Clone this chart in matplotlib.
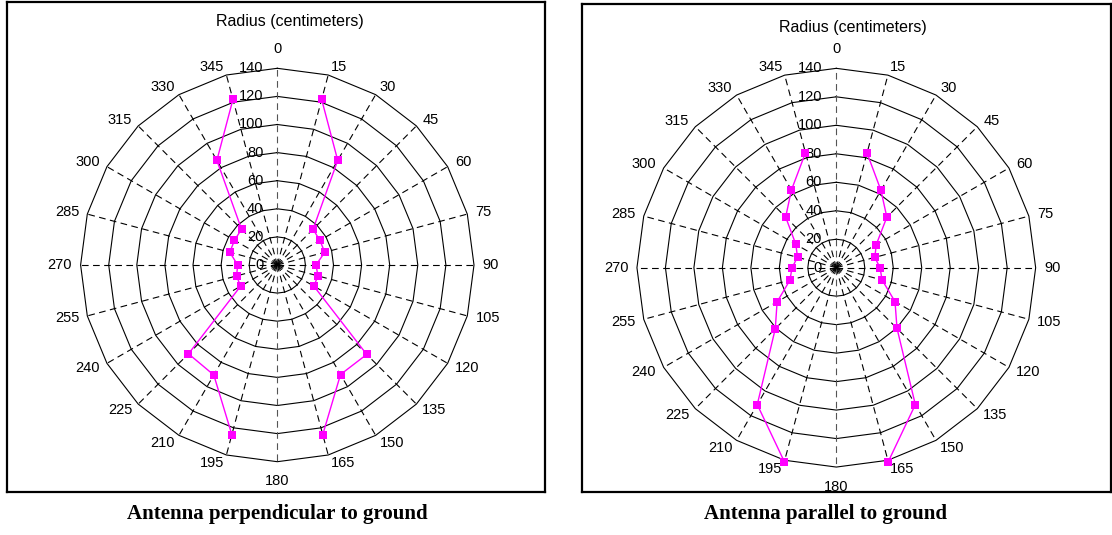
import numpy as np
import matplotlib.pyplot as plt

# Angles (degrees, clockwise from top) of the two halves of each pattern
angles_east = [15, 30, 45, 60, 75, 90, 105, 120, 135, 150, 165]
angles_west = [195, 210, 225, 240, 255, 270, 285, 300, 315, 330, 345]

# Radius (cm) - antenna perpendicular to ground
perp_east = [122, 86, 36, 35, 35, 27.5, 30, 30, 90, 90, 125]
perp_west = [125, 90.4, 89.4, 30.2, 30, 28.2, 35, 35.2, 36, 86, 122]

# Radius (cm) - antenna parallel to ground
par_east = [83.4, 62.7, 50.2, 32.4, 28, 30.7, 33.3, 47.6, 60.3, 111, 141]
par_west = [141, 111, 60.6, 48, 33.7, 31.1, 28.2, 32.8, 50.3, 63, 83.6]

ring_values = [20, 40, 60, 80, 100, 120, 140]
radial_labels = ['0', '20', '40', '60', '80', '100', '120', '140']
spoke_angles = list(range(0, 360, 15))

titles = ['Antenna perpendicular to ground', 'Antenna parallel to ground']

plt.rcParams['font.family'] = ['Liberation Sans', 'DejaVu Sans']

W, H = 1112, 535
fig = plt.figure(figsize=(W / 100, H / 100), dpi=100)


def to_xy(ang, r):
    t = np.deg2rad(np.asarray(ang, dtype=float))
    r = np.asarray(r, dtype=float)
    return r * np.sin(t), r * np.cos(t)


def radar(box, center, scale, east, west, title_off):
    x0, y0, x1, y1 = box
    cx, cy = center
    ax = fig.add_axes([x0 / W, (H - y1) / H, (x1 - x0) / W, (y1 - y0) / H])
    ax.set_xlim((x0 - cx) / scale, (x1 - cx) / scale)
    ax.set_ylim(-(y1 - cy) / scale, (cy - y0) / scale)
    ax.set_xticks([])
    ax.set_yticks([])
    for s in ax.spines.values():
        s.set_linewidth(1.6)
        s.set_color('black')

    # polygon rings
    ring_ang = spoke_angles + [0]
    for rv in ring_values:
        gx, gy = to_xy(ring_ang, [rv] * len(ring_ang))
        ax.plot(gx, gy, color='black', lw=0.8, zorder=1)

    # dashed spokes
    for a in spoke_angles:
        sx, sy = to_xy([a, a], [0, 140])
        col = '#555555' if a in (0, 180) else 'black'
        ax.plot(sx, sy, color=col, lw=0.8, linestyle=(0, (6, 4)), zorder=1)

    # radial value labels along the top spoke
    for i, lab in enumerate(radial_labels):
        ax.text(-10, i * 20, lab, ha='right', va='center', fontsize=10.5)

    # angle labels, anchored just outside the outer ring
    for a in spoke_angles:
        if a in (0, 180):
            lx, ly = to_xy(a, 149)
            ax.text(lx, ly, str(a), ha='center',
                    va='bottom' if a == 0 else 'top', fontsize=10.5)
        else:
            lx, ly = to_xy(a, 146)
            ax.text(lx, ly, str(a), ha='left' if a < 180 else 'right',
                    va='center', fontsize=10.5)

    ax.text(title_off[0], title_off[1], 'Radius (centimeters)', ha='center',
            va='center', fontsize=11.5)

    # data
    for angs, vals in ((angles_east, east), (angles_west, west)):
        dx, dy = to_xy(angs, vals)
        ax.plot(dx, dy, color='#ff00ff', lw=1.0, marker='s', markersize=5.5,
                markeredgewidth=0, zorder=3)
    return ax


radar((7, 2, 545, 492), (277.3, 265), 1.405, perp_east, perp_west, (9, 173))
radar((582, 4, 1111, 492), (836.3, 267.7), 1.424, par_east, par_west, (11.5, 169))

fig.text(277.5 / W, 1 - 514 / H, titles[0], ha='center', va='center',
         fontsize=15, fontweight='bold', family=['Liberation Serif', 'DejaVu Serif'])
fig.text(826 / W, 1 - 514 / H, titles[1], ha='center', va='center',
         fontsize=15, fontweight='bold', family=['Liberation Serif', 'DejaVu Serif'])

fig.savefig('out.png', dpi=100)
